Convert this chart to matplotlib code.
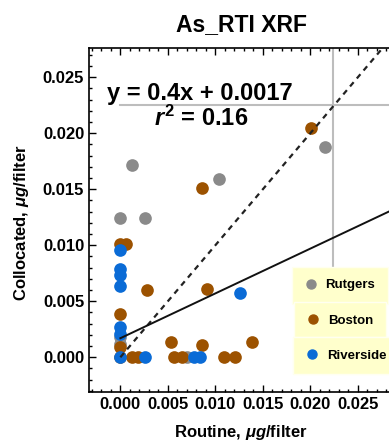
import matplotlib
matplotlib.use("Agg")
import matplotlib.pyplot as plt
from matplotlib.lines import Line2D
import numpy as np

plt.rcParams["font.family"] = ["Liberation Sans", "DejaVu Sans"]
plt.rcParams["font.weight"] = "bold"
plt.rcParams["mathtext.fontset"] = "custom"
plt.rcParams["mathtext.rm"] = "Liberation Sans:bold"
plt.rcParams["mathtext.it"] = "Liberation Sans:italic:bold"
plt.rcParams["mathtext.bf"] = "Liberation Sans:bold"

# data (ug/filter)
rutgers_x = [0.0012, 0.0215, 0.0104, 0.0, 0.0026, 0.0, 0.0070, 0.0]
rutgers_y = [0.0172, 0.0188, 0.0159, 0.0124, 0.0124, 0.0018, 0.0, 0.0012]

boston_x = [0.0201, 0.0086, 0.0, 0.0006, 0.0028, 0.0091, 0.0, 0.0, 0.0053,
            0.0086, 0.0138, 0.0, 0.0012, 0.0019, 0.0056, 0.0065, 0.0109, 0.0121]
boston_y = [0.0205, 0.0151, 0.0101, 0.0101, 0.0060, 0.0061, 0.0039, 0.0009, 0.0014,
            0.0011, 0.0014, 0.0, 0.0, 0.0, 0.0, 0.0, 0.0, 0.0]

riverside_x = [0.0, 0.0, 0.0, 0.0, 0.0, 0.0, 0.0, 0.0026, 0.0126, 0.0077, 0.0084]
riverside_y = [0.0096, 0.0079, 0.0073, 0.0064, 0.0027, 0.0021, 0.0, 0.0, 0.0057, 0.0, 0.0]

fit_slope = 0.4
fit_intercept = 0.0017
r_squared = 0.16
max_x = 0.0224
max_y = 0.0225

GRAY = "#8a8a8a"
BROWN = "#9c5200"
BLUE = "#0a6bd6"
LEG_BG = "#ffffcc"

fig = plt.figure(figsize=(3.89, 4.43), dpi=100)
ax = fig.add_axes([89 / 389, 51 / 443, 306 / 389, 344 / 443])

xmin, xmax = -0.0033, 0.0289
ymin, ymax = -0.0031, 0.0276
ax.set_xlim(xmin, xmax)
ax.set_ylim(ymin, ymax)

# max reference lines
ax.plot([0, xmax], [max_y, max_y], color="#bdbdbd", lw=1.5, zorder=1)
ax.plot([max_x, max_x], [0, ymax], color="#bdbdbd", lw=1.5, zorder=1)

ms = 83
ax.scatter(rutgers_x, rutgers_y, s=ms, color=GRAY, lw=0, zorder=3)
ax.scatter(boston_x, boston_y, s=ms, color=BROWN, lw=0, zorder=4)
ax.scatter(riverside_x, riverside_y, s=ms, color=BLUE, lw=0, zorder=5)

# 1:1 line and fit
ax.plot([0, ymax], [0, ymax], color="#222222", lw=1.6, ls=(0, (2.5, 2.2)), zorder=6)
xs = np.array([0, xmax])
ax.plot(xs, fit_slope * xs + fit_intercept, color="#111111", lw=1.4, zorder=6)

ax.text(0.0084, 0.02357, "y = 0.4x + 0.0017", fontsize=17, fontweight="bold",
        ha="center", va="center", zorder=7)
ax.text(0.0085, 0.02134, r"$r^2$ = " + f"{r_squared:.2f}", fontsize=17,
        fontweight="bold", ha="center", va="center", zorder=7)

ticks = [0.0, 0.005, 0.010, 0.015, 0.020, 0.025]
ax.set_xticks(ticks)
ax.set_yticks(ticks)
ax.set_xticklabels([f"{t:.3f}" for t in ticks])
ax.set_yticklabels([f"{t:.3f}" for t in ticks])
ax.set_xticks(np.arange(-0.003, 0.029, 0.001), minor=True)
ax.set_yticks(np.arange(-0.003, 0.028, 0.001), minor=True)
ax.tick_params(which="both", direction="in", top=True, right=False, width=1)
ax.tick_params(which="major", length=5, labelsize=12, pad=3.5)
ax.tick_params(which="minor", length=2.5)
for sp in ["left", "bottom", "top"]:
    ax.spines[sp].set_linewidth(1.2)
ax.spines["right"].set_visible(False)

fig.text(241 / 389, 1 - 25 / 443, "As_RTI XRF", fontsize=16.5, fontweight="bold",
         ha="center", va="center")
fig.text(241 / 389, 1 - 432 / 443, r"Routine, $\mu g$/filter", fontsize=12,
         fontweight="bold", ha="center", va="center")
fig.text(22 / 389, 1 - 223 / 443, r"Collocated, $\mu g$/filter", fontsize=12,
         fontweight="bold", ha="center", va="center", rotation=90)

# three separate legend boxes
legend_items = [("Rutgers", GRAY, 0.819, 0.310),
                ("Boston", BROWN, 0.820, 0.208),
                ("Riverside", BLUE, 0.840, 0.106)]
for name, col, lx, ly in legend_items:
    h = Line2D([], [], marker="o", ls="", color=col, markersize=6.5)
    leg = ax.legend([h], [name], loc="center", bbox_to_anchor=(lx, ly),
                    fontsize=9.5, frameon=True, fancybox=False, framealpha=1,
                    facecolor=LEG_BG, edgecolor="#fffff0", borderpad=0.95,
                    handletextpad=0.6, handlelength=1.0, borderaxespad=0)
    leg.set_zorder(10)
    ax.add_artist(leg)

fig.savefig("out.png", dpi=100)
